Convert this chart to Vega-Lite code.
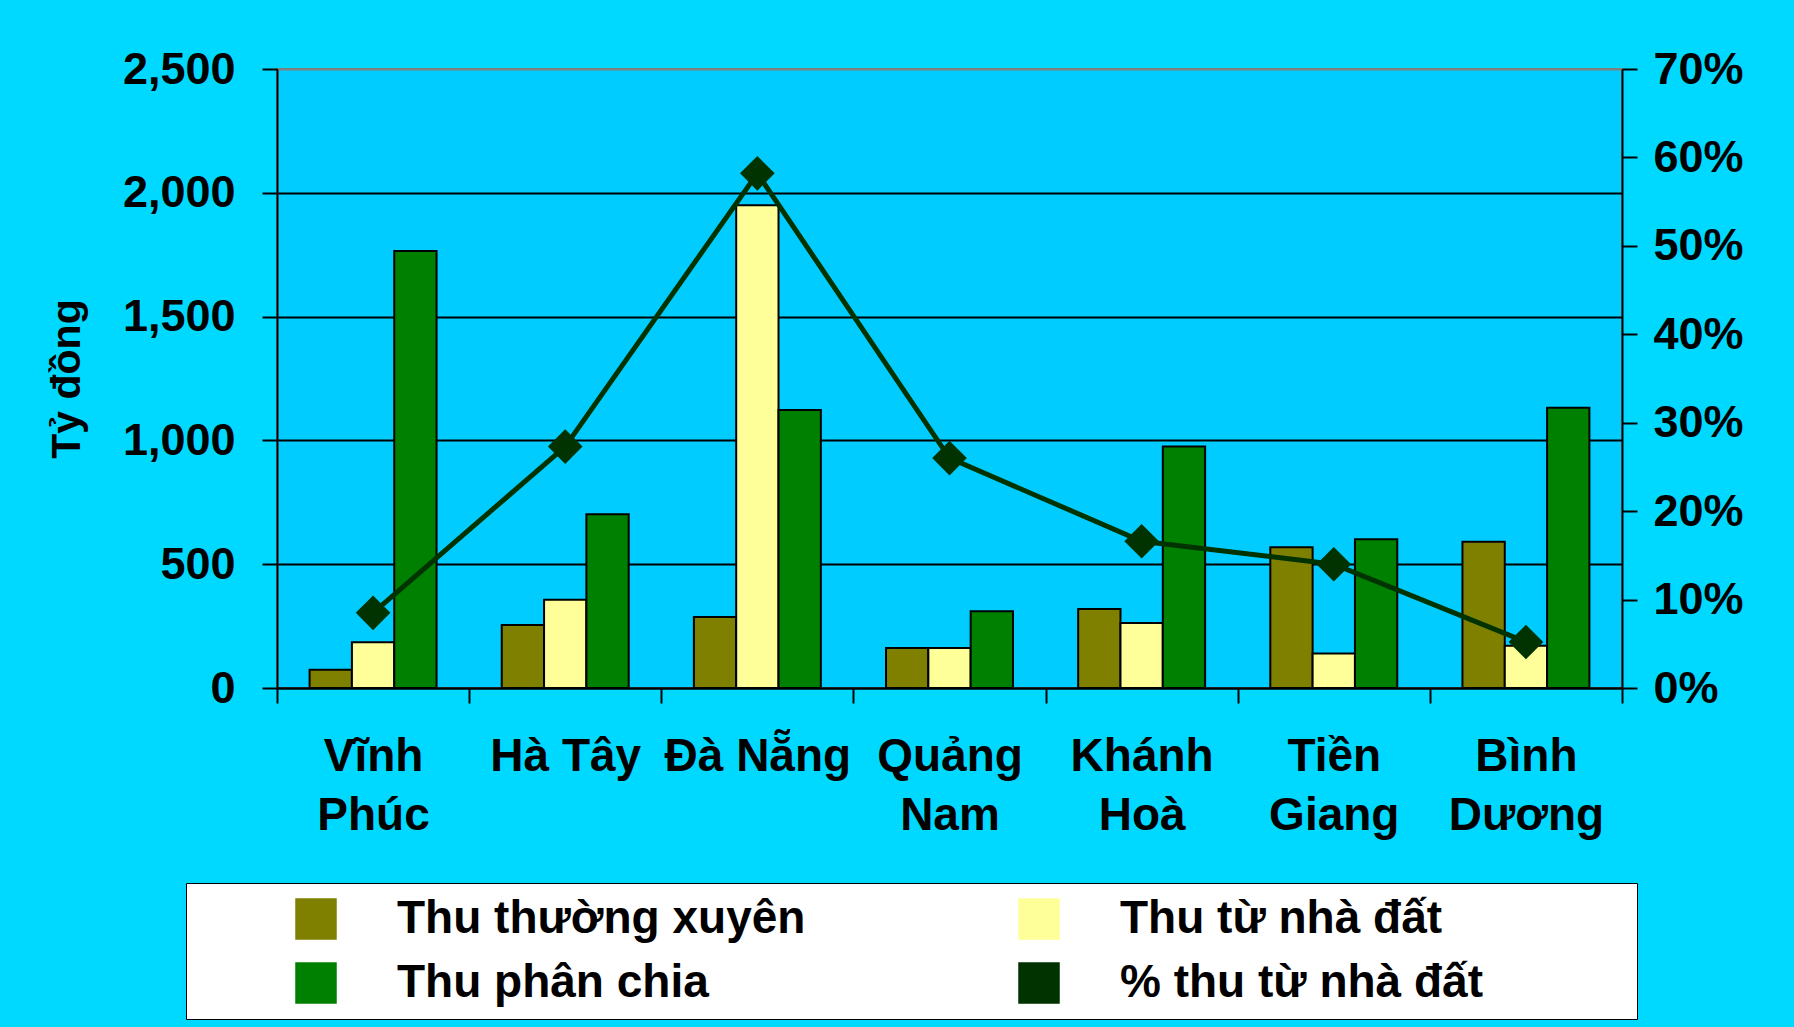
{
  "$schema": "https://vega.github.io/schema/vega-lite/v6.json",
  "autosize": "none",
  "width": 1345,
  "height": 619,
  "padding": {"left": 277, "top": 69, "right": 172, "bottom": 339},
  "background": "#00D9FF",
  "config": {
    "font": "Liberation Sans",
    "view": {"fill": "#00CCFF", "stroke": "#808080", "strokeWidth": 2},
    "axis": {"labelFont": "Liberation Sans", "labelFontWeight": "bold", "labelColor": "black", "titleFont": "Liberation Sans", "titleFontWeight": "bold", "titleColor": "black", "domainColor": "black", "domainWidth": 2, "tickColor": "black", "tickWidth": 2, "tickSize": 15}
  },
  "datasets": {
    "bars": [
      {"tinh": "Vĩnh Phúc", "series": "Thu thường xuyên", "value": 74},
      {"tinh": "Vĩnh Phúc", "series": "Thu từ nhà đất", "value": 185},
      {"tinh": "Vĩnh Phúc", "series": "Thu phân chia", "value": 1765},
      {"tinh": "Hà Tây", "series": "Thu thường xuyên", "value": 254},
      {"tinh": "Hà Tây", "series": "Thu từ nhà đất", "value": 356},
      {"tinh": "Hà Tây", "series": "Thu phân chia", "value": 702},
      {"tinh": "Đà Nẵng", "series": "Thu thường xuyên", "value": 287},
      {"tinh": "Đà Nẵng", "series": "Thu từ nhà đất", "value": 1950},
      {"tinh": "Đà Nẵng", "series": "Thu phân chia", "value": 1123},
      {"tinh": "Quảng Nam", "series": "Thu thường xuyên", "value": 162},
      {"tinh": "Quảng Nam", "series": "Thu từ nhà đất", "value": 162},
      {"tinh": "Quảng Nam", "series": "Thu phân chia", "value": 310},
      {"tinh": "Khánh Hoà", "series": "Thu thường xuyên", "value": 319},
      {"tinh": "Khánh Hoà", "series": "Thu từ nhà đất", "value": 263},
      {"tinh": "Khánh Hoà", "series": "Thu phân chia", "value": 975},
      {"tinh": "Tiền Giang", "series": "Thu thường xuyên", "value": 568},
      {"tinh": "Tiền Giang", "series": "Thu từ nhà đất", "value": 139},
      {"tinh": "Tiền Giang", "series": "Thu phân chia", "value": 601},
      {"tinh": "Bình Dương", "series": "Thu thường xuyên", "value": 591},
      {"tinh": "Bình Dương", "series": "Thu từ nhà đất", "value": 171},
      {"tinh": "Bình Dương", "series": "Thu phân chia", "value": 1132}
    ],
    "pct": [
      {"tinh": "Vĩnh Phúc", "series": "% thu từ nhà đất", "pct": 0.085},
      {"tinh": "Hà Tây", "series": "% thu từ nhà đất", "pct": 0.273},
      {"tinh": "Đà Nẵng", "series": "% thu từ nhà đất", "pct": 0.582},
      {"tinh": "Quảng Nam", "series": "% thu từ nhà đất", "pct": 0.26},
      {"tinh": "Khánh Hoà", "series": "% thu từ nhà đất", "pct": 0.166},
      {"tinh": "Tiền Giang", "series": "% thu từ nhà đất", "pct": 0.14},
      {"tinh": "Bình Dương", "series": "% thu từ nhà đất", "pct": 0.052}
    ]
  },
  "encoding": {
    "x": {
      "field": "tinh", "type": "nominal", "sort": null,
      "scale": {"paddingInner": 0, "paddingOuter": 0},
      "axis": {
        "title": null, "labelAngle": 0, "labelFontSize": 46, "labelBaseline": "top", "labelPadding": 31,
        "labelLineHeight": 59, "labelLimit": 500, "labelOverlap": false, "tickBand": "extent",
        "labelExpr": "indexof(['Hà Tây', 'Đà Nẵng'], datum.label) >= 0 ? datum.label : split(datum.label, ' ')"
      }
    }
  },
  "layer": [
    {
      "data": {"name": "bars"},
      "mark": {"type": "bar", "stroke": "black", "strokeWidth": 2},
      "encoding": {
        "xOffset": {"field": "series", "type": "nominal", "sort": ["Thu thường xuyên", "Thu từ nhà đất", "Thu phân chia"], "scale": {"paddingInner": 0, "paddingOuter": 0.77}},
        "y": {
          "field": "value", "type": "quantitative",
          "scale": {"domain": [0, 2500], "nice": false},
          "axis": {
            "values": [0, 500, 1000, 1500, 2000, 2500], "format": ",.0f", "labelFontSize": 45, "labelPadding": 27,
            "title": "Tỷ đồng", "titleFontSize": 41, "titlePadding": 34,
            "grid": true, "gridWidth": 2,
            "gridColor": {"condition": {"test": "datum.value === 2500", "value": "#808080"}, "value": "black"}
          }
        },
        "color": {
          "field": "series", "type": "nominal",
          "scale": {
            "domain": ["Thu thường xuyên", "Thu từ nhà đất", "Thu phân chia", "% thu từ nhà đất"],
            "range": ["#808000", "#FFFF99", "#008000", "#003300"]
          },
          "legend": {
            "orient": "none", "legendX": -91, "legendY": 814, "direction": "horizontal",
            "columns": 2, "gridAlign": "all", "columnPadding": 69, "rowPadding": 18,
            "symbolSize": 1600,
            "labelFontSize": 46, "labelFont": "Liberation Sans", "labelFontWeight": "bold", "labelColor": "black",
            "labelLimit": 1000, "labelOffset": 58,
            "labelExpr": "datum.label + '\u00a0\u00a0\u00a0\u00a0\u00a0\u00a0\u00a0\u00a0\u00a0\u00a0\u00a0\u200b'",
            "padding": 13,
            "fillColor": "white", "strokeColor": "black",
            "title": " ", "titleOrient": "left", "titlePadding": 94, "titleFontSize": 44,
            "encode": {
              "legend": {"strokeWidth": {"value": 3}}
            }
          }
        }
      }
    },
    {
      "data": {"name": "pct"},
      "layer": [
        {
          "mark": {"type": "line", "strokeWidth": 5},
          "encoding": {
            "y": {
              "field": "pct", "type": "quantitative",
              "scale": {"domain": [0, 0.7], "nice": false},
              "axis": {
                "orient": "right", "values": [0, 0.1, 0.2, 0.3, 0.4, 0.5, 0.6, 0.7], "format": ".0%",
                "labelFontSize": 45, "labelPadding": 16, "title": null, "grid": false
              }
            },
            "color": {"field": "series", "type": "nominal", "legend": null}
          }
        },
        {
          "mark": {"type": "point", "shape": "diamond", "size": 1200, "filled": true, "opacity": 1},
          "encoding": {
            "y": {"field": "pct", "type": "quantitative"},
            "color": {"field": "series", "type": "nominal", "legend": null}
          }
        }
      ]
    }
  ],
  "resolve": {"scale": {"y": "independent"}}
}
